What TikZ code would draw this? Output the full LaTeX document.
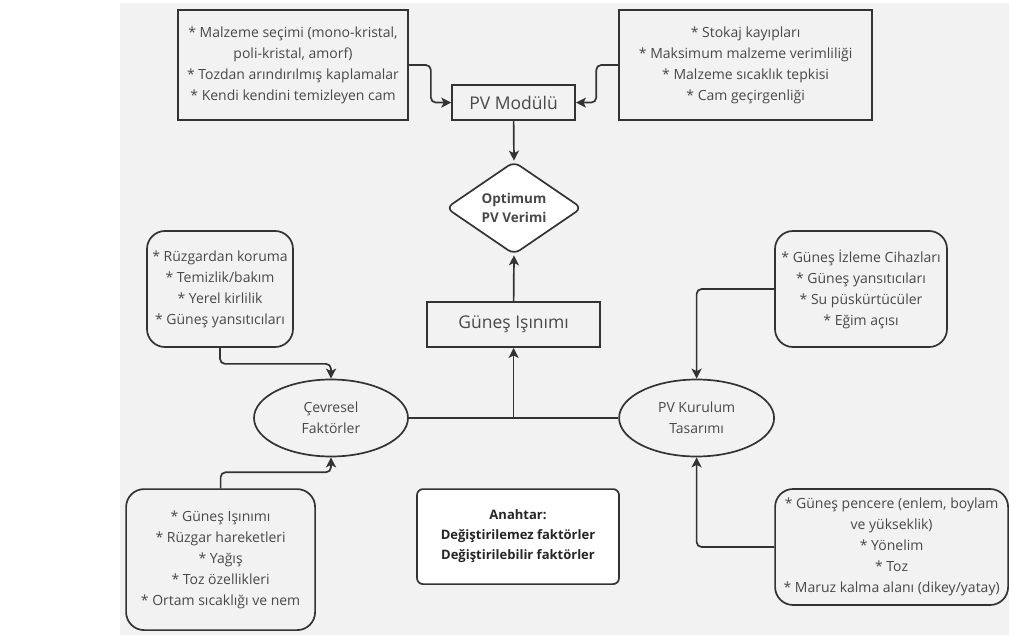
\documentclass[tikz,border=0pt]{standalone}
\usepackage{fontspec}
\setmainfont{Open Sans}
\usepackage{tikz}
\usepackage{xcolor}
\definecolor{LineGray}{HTML}{333333}
\definecolor{TextGray}{HTML}{484848}
\definecolor{PaperGray}{HTML}{F2F2F2}
\usetikzlibrary{shapes.geometric}
\usetikzlibrary{arrows.meta}

\tikzset{
  plain/.style={draw=LineGray, line width=1.7pt, text=TextGray, align=center,
    font=\fontsize{14}{21}\selectfont},
  listbox/.style={plain, rectangle, inner sep=1pt},
  roundbox/.style={listbox, rounded corners=18pt},
  titlebox/.style={plain, rectangle, font=\fontsize{17.5}{21}\selectfont},
  blob/.style={plain, ellipse, inner sep=0pt},
  link/.style={draw=LineGray, line width=1.7pt, rounded corners=5pt,
    -{Stealth[length=10pt, width=10pt, inset=2.5pt]}},
}

\begin{document}
\begin{tikzpicture}[x=20pt, y=-20pt]
\useasboundingbox (0, 0) rectangle (50.45, 32.2);
\fill[PaperGray] (6, 0.15) rectangle (50.45, 31.75);

% module level
\node[listbox, minimum width=230pt, minimum height=110pt] (matbox) at (14.65, 3.25)
  {* Malzeme seçimi (mono-kristal,\\ poli-kristal, amorf)\\ * Tozdan arındırılmış kaplamalar\\ * Kendi kendini temizleyen cam};
\node[listbox, minimum width=253pt, minimum height=110pt] (lossbox) at (37.28, 3.25)
  {* Stokaj kayıpları\\ * Maksimum malzeme verimliliği\\ * Malzeme sıcaklık tepkisi\\ * Cam geçirgenliği};
\node[titlebox, minimum width=123pt, minimum height=35pt] (pvmod) at (25.68, 5.13) {PV Modülü};

\node[plain, diamond, fill=white, rounded corners=7pt, inner sep=0pt, aspect=1.46,
  minimum width=136pt, minimum height=93pt, font=\bfseries\fontsize{13.5}{19}\selectfont]
  (optimum) at (25.7, 10.4) {Optimum\\ PV Verimi};

\node[titlebox, minimum width=173pt, minimum height=45pt] (gunes) at (25.68, 16.23) {Güneş Işınımı};

% site level
\node[blob, minimum width=154pt, minimum height=77pt] (cevre) at (16.55, 20.9) {Çevresel\\ Faktörler};
\node[blob, minimum width=155pt, minimum height=77pt] (kurulum) at (34.83, 20.9) {PV Kurulum\\ Tasarımı};

\node[roundbox, minimum width=146pt, minimum height=116pt] (windbox) at (11, 14.45)
  {* Rüzgardan koruma\\ * Temizlik/bakım\\ * Yerel kirlilik\\ * Güneş yansıtıcıları};
\node[roundbox, minimum width=172pt, minimum height=116pt] (trackbox) at (43.05, 14.45)
  {* Güneş İzleme Cihazları\\ * Güneş yansıtıcıları\\ * Su püskürtücüler\\ * Eğim açısı};
\node[roundbox, minimum width=189pt, minimum height=141pt] (climbox) at (11.03, 27.98)
  {* Güneş Işınımı\\ * Rüzgar hareketleri\\ * Yağış\\ * Toz özellikleri\\ * Ortam sıcaklığı ve nem};
\node[roundbox, minimum width=233pt, minimum height=116pt] (sitebox) at (44.58, 27.35)
  {* Güneş pencere (enlem, boylam\\ ve yükseklik)\\ * Yönelim\\ * Toz\\ * Maruz kalma alanı (dikey/yatay)};

\node[plain, rectangle, fill=white, rounded corners=6pt, minimum width=202pt, minimum height=95pt,
  text=black!85, font=\bfseries\fontsize{13}{20}\selectfont] (keybox) at (25.9, 26.83)
  {Anahtar:\\ Değiştirilemez faktörler\\ Değiştirilebilir faktörler};

% connectors
\draw[link] (matbox.east) -- ++(1.1, 0) |- (pvmod.west);
\draw[link] (lossbox.west) -- ++(-1.1, 0) |- (pvmod.east);
\draw[link] (pvmod.south) -- (optimum.north);
\draw[link] (gunes.north) -- (optimum.south);

\draw[draw=LineGray, line width=1.7pt] (cevre.east) -- (kurulum.west);
\coordinate (join) at (gunes.south |- cevre.east);
\draw[link] (join) -- (gunes.south);

\draw[link] (windbox.south) -- ++(0, 0.8) -| (cevre.north);
\draw[link] (climbox.north) -- ++(0, -0.8) -| (cevre.south);
\draw[link] (trackbox.west) -| (kurulum.north);
\draw[link] (sitebox.west) -| (kurulum.south);
\end{tikzpicture}
\end{document}
